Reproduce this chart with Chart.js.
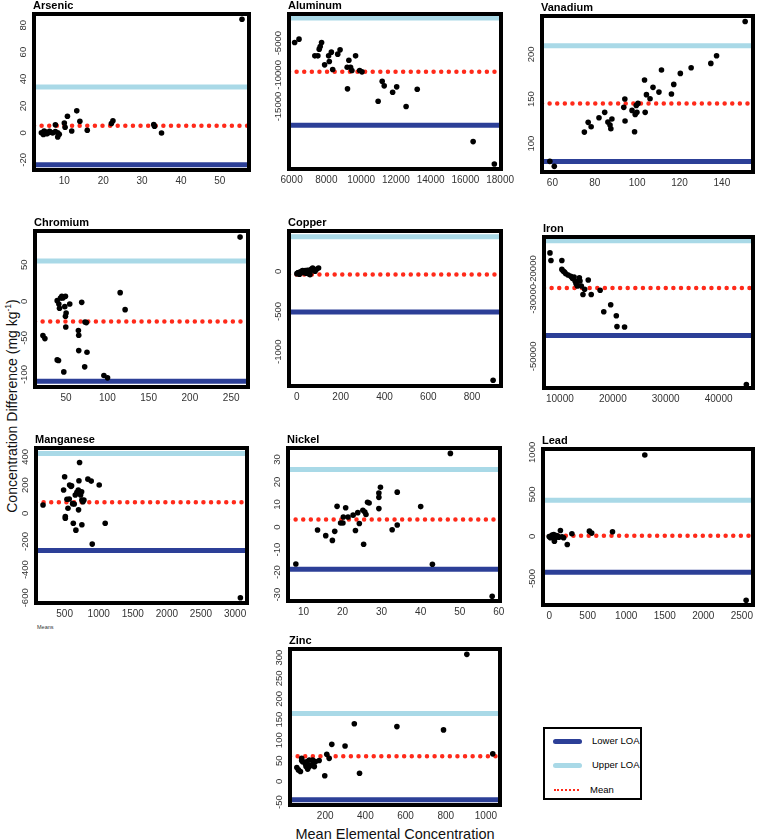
<!DOCTYPE html>
<html>
<head>
<meta charset="utf-8">
<script src="https://cdn.jsdelivr.net/npm/chart.js@4.4.1/dist/chart.umd.min.js"></script>
<style>
    body { margin: 0; background: #fff; }
    #wrap { position: relative; width: 758px; height: 839px; overflow: hidden; font-family: "Liberation Sans", Arial, sans-serif; }
    canvas.panel { position: absolute; }
    #etiquetaY { position: absolute; left: -162px; top: 397px; width: 340px; height: 18px; line-height: 18px; text-align: center; font-size: 14px; transform: rotate(-90deg); color: #111; }
    #etiquetaY sup { font-size: 8.5px; }
    #etiquetaX { position: absolute; left: 245px; top: 825px; width: 300px; line-height: 18px; text-align: center; font-size: 14.5px; color: #111; }
    #means { position: absolute; left: 37px; top: 624px; font-size: 5.5px; color: #333; }
    #leyenda { position: absolute; left: 543px; top: 727px; width: 95px; height: 69px; border: 2px solid #000; font-size: 9.5px; }
    .fila { position: absolute; left: 0; height: 12px; line-height: 12px; }
    .muestra { position: absolute; left: 8px; top: 4px; width: 29px; height: 5px; border-radius: 3px; }
    .punteada { position: absolute; left: 9px; top: 5px; width: 25px; border-top: 2px dotted #ff2a1a; }
    .texto { position: absolute; left: 47px; white-space: nowrap; }
</style>
</head>
<body>
<div id="wrap">
    <div id="etiquetaY">Concentration Difference (mg kg<sup>-1</sup>)</div>
    <div id="etiquetaX">Mean Elemental Concentration</div>
    <div id="means">Means</div>
    <div id="leyenda">
        <div class="fila" style="top:6px"><span class="muestra" style="background:#2c3f97"></span><span class="texto">Lower LOA</span></div>
        <div class="fila" style="top:30px"><span class="muestra" style="background:#a9d9e7"></span><span class="texto">Upper LOA</span></div>
        <div class="fila" style="top:55px"><span class="punteada"></span><span class="texto" style="left:45px">Mean</span></div>
    </div>
</div>
<script>
// medias (x) y diferencias (y), loa = [lower, mean, upper]
const arsenicX = [4.1, 4.6, 5.2, 5.8, 6.5, 7.0, 7.7, 7.7, 8.3, 8.3, 8.7, 4.8, 5.5, 6.2, 10.0, 10.2, 10.8, 11.9, 13.2, 14.0, 15.9, 22.1, 22.5, 33.0, 33.2, 35.0, 55.7];
const arsenicY = [0.2, -1.2, 0.7, 0, 0.5, 0, 1, 6, 0.2, -3, -1, 1.5, -0.5, 1.2, 7.4, 4.2, 12.4, 1.5, 16.4, 8.7, 2, 7, 9, 6.2, 5, 0, 84.4];
const arsenicLoa = [-23.6, 5.3, 34.2];
const arsenicXTicks = [10, 20, 30, 40, 50];
const arsenicYTicks = [-20, 0, 20, 40, 60, 80];

const aluminumX = [6174, 6426, 7337, 7512, 7589, 7647, 7725, 7900, 8130, 8170, 8287, 8364, 8655, 8790, 9198, 9217, 9295, 9392, 9470, 9682, 9915, 10050, 10980, 11213, 11329, 11814, 12047, 12589, 13229, 16446, 17667];
const aluminumY = [-4895, -4368, -7000, -7000, -5947, -5526, -4895, -8420, -7000, -7895, -6421, -9158, -6737, -6053, -8790, -12210, -7684, -8790, -9316, -7000, -9316, -9526, -14158, -11000, -11737, -12737, -11895, -15000, -12263, -20526, -24050];
const aluminumLoa = [-17950, -9500, -1050];
const aluminumXTicks = [6000, 8000, 10000, 12000, 14000, 16000, 18000];
const aluminumYTicks = [-15000, -10000, -5000];

const vanadiumX = [58.8, 60.9, 75.1, 76.9, 78.3, 82.0, 84.7, 86.2, 87.2, 87.6, 88.1, 93.7, 94.2, 94.3, 97.6, 98.8, 99.1, 99.6, 99.9, 100.4, 103.5, 103.8, 104.4, 106.1, 107.5, 110.3, 111.5, 116.2, 117.3, 120.4, 125.5, 134.8, 137.5, 151.0];
const vanadiumY = [80.2, 74.6, 113, 123.9, 119, 129.1, 135.1, 124.3, 120.9, 116.8, 127.6, 140.7, 150, 125.4, 137.3, 113.4, 132.8, 142.9, 135.1, 145.1, 171.3, 135.1, 154.9, 150.4, 163.1, 157.8, 182.5, 155.6, 166.4, 178.7, 185.1, 189.9, 198.5, 236.9];
const vanadiumLoa = [80, 145, 209.7];
const vanadiumXTicks = [60, 80, 100, 120, 140];
const vanadiumYTicks = [100, 150, 200];

const chromiumX = [21.9, 24.3, 39.2, 39.2, 40.8, 41.2, 42.0, 43.2, 44.8, 46, 47.2, 48.4, 49.2, 49.2, 50, 49.6, 54.4, 64.9, 65.3, 65.3, 68.9, 72.5, 72.9, 74.5, 75.3, 95.8, 100.2, 115.5, 121.5, 260.8];
const chromiumY = [-46.8, -50.9, 0.9, -80, -80.9, -3.6, -9.5, 4.5, 6.8, 4.5, -96.4, -7.3, 6.8, -20.5, -15.9, -35, -3.6, -40, -46.4, -67.3, -1.4, -89.5, -28.2, -29.1, -69.5, -101.4, -104.5, 11.8, -11.4, 87.7];
const chromiumLoa = [-109, -27.7, 55];
const chromiumXTicks = [50, 100, 150, 200, 250];
const chromiumYTicks = [-100, -50, 0, 50];

const copperX = [0, 5, 7.5, 12, 15, 18, 22, 26, 30, 35, 38, 42, 45, 48, 53, 56, 60, 65, 68, 72, 78, 83, 90, 99, 896];
const copperY = [-29, -20, -16, -37, -8, -12, 0, 8, -16, -4, 8, -24, -8, 12, 8, -33, -41, 24, 16, 41, 20, 0, 24, 41, -1355];
const copperLoa = [-506, -40, 429];
const copperXTicks = [0, 200, 400, 600, 800];
const copperYTicks = [-1000, -500, 0];

const ironX = [8129, 8316, 10374, 10374, 10624, 10873, 11123, 11560, 12059, 12371, 12682, 12870, 13057, 13306, 13493, 13680, 13805, 14054, 14366, 14678, 15364, 15926, 17610, 18297, 19607, 20668, 20792, 22227, 45246];
const ironY = [-14023, -16667, -16667, -19770, -20345, -20690, -21264, -21724, -22184, -22874, -22414, -23793, -24713, -25517, -23793, -22644, -23793, -25517, -28506, -26667, -23448, -28506, -27011, -34483, -32069, -35862, -39655, -39770, -59770];
const ironLoa = [-42760, -26200, -9770];
const ironXTicks = [10000, 20000, 30000, 40000];
const ironYTicks = [-50000, -30000, -20000];

const manganeseX = [183, 485, 500, 510, 510, 534, 549, 568, 573, 593, 602, 617, 627, 641, 656, 665, 680, 700, 704, 710, 719, 734, 749, 753, 753, 768, 783, 841, 890, 905, 1007, 1095, 3078];
const manganeseY = [59, 165, 259, -24, -35, 99, 35, 101, 200, 191, 195, 68, -71, 66, 129, -120, 148, 165, 24, 231, 360, 129, 153, 94, -82, 82, 94, 242, 228, -219, 200, -71, -600];
const manganeseLoa = [-264, 78, 424];
const manganeseXTicks = [500, 1000, 1500, 2000, 2500, 3000];
const manganeseYTicks = [-600, -400, -200, 0, 200, 400];

const nickelX = [8.05, 13.6, 15.7, 17.4, 18, 18.6, 19.5, 20.1, 20.2, 20.8, 21.4, 22.7, 23.3, 23.9, 24.3, 25.2, 25.4, 25.7, 26, 26.4, 26.8, 29.3, 29.3, 29.3, 29.7, 32.7, 34, 34, 40, 43, 47.6, 58.3];
const nickelY = [-16.4, -1.3, -3.8, -5.9, -1.9, 9.2, 1.8, 1.8, 4.5, 8.6, 4.5, 5.3, -1.5, 6.4, 1.6, 7.5, -7.6, 6.7, 5.6, 11, 10.7, 8.2, 13.2, 15.1, 17.7, -1.2, 0.9, 15.5, 9.1, -16.5, 32.7, -30.7];
const nickelLoa = [-18.7, 3.4, 25.6];
const nickelXTicks = [10, 20, 30, 40, 50, 60];
const nickelYTicks = [-30, -20, -10, 0, 10, 20, 30];

const leadX = [0, 17, 30, 39, 51, 60, 68, 81, 95, 107, 125, 146, 167, 188, 235, 295, 522, 552, 822, 1241, 2556];
const leadY = [0, -16, 5, 16, -8, 24, -56, -16, 10, 4, -8, 71, -4, -16, -95, 32, 63, 40, 56, 968, -758];
const leadLoa = [-425, 8, 432];
const leadXTicks = [0, 500, 1000, 1500, 2000, 2500];
const leadYTicks = [-500, 0, 500, 1000];

const zincX = [59, 67, 77, 83, 83, 88, 101, 105, 110, 113, 121, 121, 129, 138, 141, 146, 151, 170, 198, 208, 220, 233, 299, 345, 371, 557, 789, 905, 1034];
const zincY = [34, 28, 24, 56, 51, 48, 43, 36, 48, 30, 52, 36, 40, 52, 48, 36, 48, 51, 14, 66, 56, 90, 86, 140, 20, 133, 125, 308, 67];
const zincLoa = [-44, 61, 165];
const zincXTicks = [200, 400, 600, 800, 1000];
const zincYTicks = [-50, 0, 50, 100, 150, 200, 250, 300];

// marco = borde exterior del recuadro [izq, arriba, der, abajo]
const paneles = [
    { titulo: "Arsenic", x: arsenicX, y: arsenicY, loa: arsenicLoa, xt: arsenicXTicks, yt: arsenicYTicks, xr: [2.2, 57.5], yr: [-27.5, 88.3], marco: [32, 12, 251, 172] },
    { titulo: "Aluminum", x: aluminumX, y: aluminumY, loa: aluminumLoa, xt: aluminumXTicks, yt: aluminumYTicks, xr: [5850, 18050], yr: [-24850, -400], marco: [287, 12, 503, 171] },
    { titulo: "Vanadium", x: vanadiumX, y: vanadiumY, loa: vanadiumLoa, xt: vanadiumXTicks, yt: vanadiumYTicks, xr: [55.1, 154.7], yr: [68.3, 243], marco: [540, 14, 755, 174] },
    { titulo: "Chromium", x: chromiumX, y: chromiumY, loa: chromiumLoa, xt: chromiumXTicks, yt: chromiumYTicks, xr: [12.3, 270.4], yr: [-117, 96], marco: [33, 229, 250, 389] },
    { titulo: "Copper", x: copperX, y: copperY, loa: copperLoa, xt: copperXTicks, yt: copperYTicks, xr: [-36, 932], yr: [-1426, 501], marco: [287, 229, 503, 388] },
    { titulo: "Iron", x: ironX, y: ironY, loa: ironLoa, xt: ironXTicks, yt: ironYTicks, xr: [7000, 46500], yr: [-61000, -8500], marco: [542, 235, 755, 390] },
    { titulo: "Manganese", x: manganeseX, y: manganeseY, loa: manganeseLoa, xt: manganeseXTicks, yt: manganeseYTicks, xr: [80, 3175], yr: [-637, 463], marco: [34, 446, 249, 605] },
    { titulo: "Nickel", x: nickelX, y: nickelY, loa: nickelLoa, xt: nickelXTicks, yt: nickelYTicks, xr: [6.04, 60.3], yr: [-32.8, 35.1], marco: [286, 446, 502, 603] },
    { titulo: "Lead", x: leadX, y: leadY, loa: leadLoa, xt: leadXTicks, yt: leadYTicks, xr: [-80, 2645], yr: [-815, 1040], marco: [541, 447, 755, 607] },
    { titulo: "Zinc", x: zincX, y: zincY, loa: zincLoa, xt: zincXTicks, yt: zincYTicks, xr: [25, 1070], yr: [-57, 321], marco: [288, 647, 502, 807] }
];

const fuente = '"Liberation Sans", Arial, sans-serif';

const marcoPlugin = {
    id: "marco",
    afterDraw(chart, args, opts) {
        const ctx = chart.ctx;
        const a = chart.chartArea;
        const y = chart.scales.y;
        ctx.save();
        // etiquetas del eje y giradas como en R
        ctx.fillStyle = "#333";
        ctx.font = "9.5px " + fuente;
        ctx.textAlign = "center";
        ctx.textBaseline = "middle";
        opts.yTicks.forEach(v => {
            ctx.save();
            ctx.translate(a.left - 11, y.getPixelForValue(v));
            ctx.rotate(-Math.PI / 2);
            ctx.fillText(String(v), 0, 0);
            ctx.restore();
        });
        ctx.lineWidth = 4;
        ctx.strokeStyle = "#000";
        ctx.strokeRect(a.left, a.top, a.right - a.left, a.bottom - a.top);
        ctx.fillStyle = "#000";
        ctx.font = "bold 11px " + fuente;
        ctx.textAlign = "left";
        ctx.textBaseline = "alphabetic";
        ctx.fillText(opts.titulo, a.left - 1, a.top - 5);
        ctx.restore();
    }
};

function linea(p, valor) {
    return [{ x: p.xr[0], y: valor }, { x: p.xr[1], y: valor }];
}

function crearPanel(p) {
    const [L, T, R, B] = p.marco;
    const canvas = document.createElement("canvas");
    canvas.className = "panel";
    canvas.width = R - L + 58;
    canvas.height = B - T + 34;
    canvas.style.left = (L - 40) + "px";
    canvas.style.top = (T - 16) + "px";
    canvas.style.width = canvas.width + "px";
    canvas.style.height = canvas.height + "px";
    document.getElementById("wrap").appendChild(canvas);

    const puntos = p.x.map((v, i) => ({ x: v, y: p.y[i] }));

    new Chart(canvas, {
        type: "scatter",
        data: {
            datasets: [
                { data: puntos, backgroundColor: "#000", pointRadius: 2.8, pointHoverRadius: 2.8, borderWidth: 0 },
                { data: linea(p, p.loa[1]), showLine: true, borderColor: "#ff2a1a", borderWidth: 4.5, borderDash: [0.01, 7.6], borderCapStyle: "round", pointRadius: 0 },
                { data: linea(p, p.loa[2]), showLine: true, borderColor: "#a9d9e7", borderWidth: 5, pointRadius: 0 },
                { data: linea(p, p.loa[0]), showLine: true, borderColor: "#2c3f97", borderWidth: 5, pointRadius: 0 }
            ]
        },
        options: {
            responsive: false,
            animation: false,
            devicePixelRatio: 1,
            layout: { padding: { left: 0, right: 20, top: 18, bottom: 0 } },
            plugins: {
                legend: { display: false },
                tooltip: { enabled: false },
                marco: { titulo: p.titulo, yTicks: p.yt }
            },
            scales: {
                x: {
                    type: "linear",
                    min: p.xr[0],
                    max: p.xr[1],
                    grid: { display: false, drawTicks: false },
                    border: { display: false },
                    ticks: {
                        autoSkip: false,
                        maxRotation: 0,
                        padding: 5,
                        color: "#333",
                        font: { family: fuente, size: 10 },
                        callback: v => String(v)
                    },
                    afterBuildTicks: s => { s.ticks = p.xt.map(v => ({ value: v })); },
                    afterFit: s => { s.height = 20; s.paddingLeft = 0; s.paddingRight = 0; }
                },
                y: {
                    type: "linear",
                    min: p.yr[0],
                    max: p.yr[1],
                    grid: { display: false, drawTicks: false },
                    border: { display: false },
                    ticks: { display: false },
                    afterFit: s => { s.width = 42; s.paddingTop = 0; s.paddingBottom = 0; }
                }
            }
        },
        plugins: [marcoPlugin]
    });
}

paneles.forEach(crearPanel);
</script>
</body>
</html>
